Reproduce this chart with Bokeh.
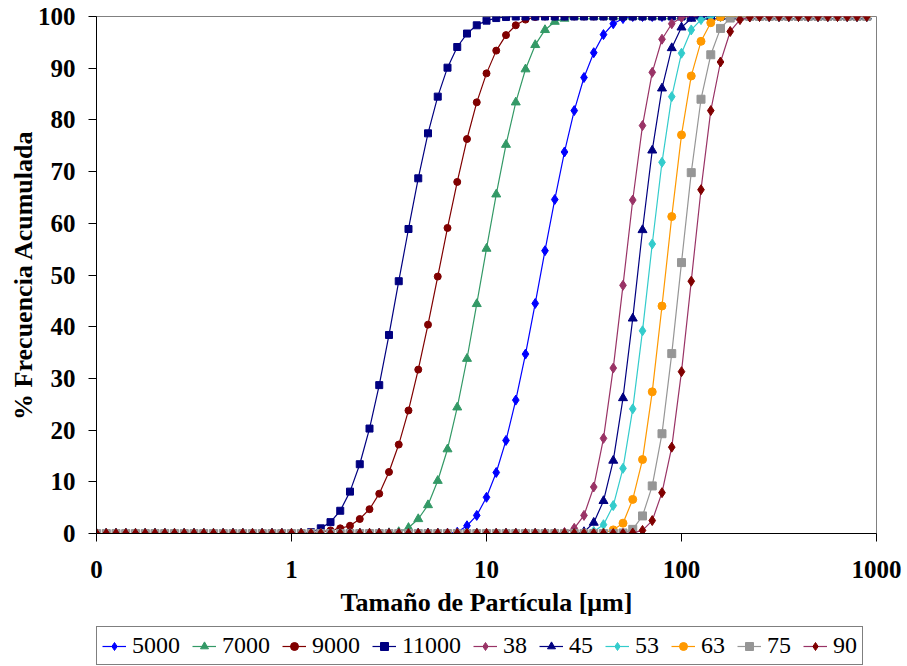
from bokeh.plotting import figure
from bokeh.layouts import column
from bokeh.models import FixedTicker, Legend, LegendItem, Range1d
from bokeh.embed import file_html
from bokeh.resources import INLINE

# Particle sizes (µm) of the measurement grid
sizes = [0.1, 0.1122, 0.1259, 0.1413, 0.1585, 0.1778, 0.1995, 0.2239, 0.2512, 0.2818,
         0.3162, 0.3548, 0.3981, 0.4467, 0.5012, 0.5623, 0.631, 0.7079, 0.7943, 0.8913,
         1.0, 1.122, 1.259, 1.413, 1.585, 1.778, 1.995, 2.239, 2.512, 2.818,
         3.162, 3.548, 3.981, 4.467, 5.012, 5.623, 6.31, 7.079, 7.943, 8.913,
         10.0, 11.22, 12.59, 14.13, 15.85, 17.78, 19.95, 22.39, 25.12, 28.18,
         31.62, 35.48, 39.81, 44.67, 50.12, 56.23, 63.1, 70.79, 79.43, 89.13,
         100.0, 112.2, 125.9, 141.3, 158.5, 177.8, 199.5, 223.9, 251.2, 281.8,
         316.2, 354.8, 398.1, 446.7, 501.2, 562.3, 631.0, 707.9, 794.3, 891.3]
N = len(sizes)

# Rising part of each cumulative curve: (index of first rising point, values)
rise_5000 = (36, [0.05, 0.25, 1.5, 3.5, 7.0, 11.8, 18.0, 25.8, 34.7, 44.5, 54.7, 64.6,
                  73.8, 81.8, 88.2, 93.0, 96.5, 98.6, 99.6])
rise_7000 = (30, [0.1, 0.3, 1.1, 2.8, 5.5, 10.2, 16.3, 24.4, 33.8, 44.4, 55.1, 65.6,
                  75.2, 83.4, 89.8, 94.5, 97.4, 99.0, 99.6])
rise_9000 = (22, [0.1, 0.3, 0.6, 1.0, 1.5, 2.8, 4.7, 7.7, 11.9, 17.2, 23.8, 31.7, 40.4,
                  49.7, 59.1, 68.0, 76.3, 83.4, 89.0, 93.4, 96.4, 98.3, 99.4, 99.9])
rise_11000 = (22, [0.25, 1.0, 2.2, 4.4, 8.1, 13.4, 20.3, 28.7, 38.4, 48.8, 58.9, 68.7,
                   77.4, 84.5, 90.1, 94.1, 96.7, 98.3, 99.2, 99.7, 99.9])
rise_38 = (48, [0.2, 1.0, 3.5, 9.0, 18.4, 32.0, 48.0, 64.5, 78.9, 89.2, 95.6, 98.6, 99.8])
rise_45 = (50, [0.3, 2.1, 6.3, 14.1, 26.2, 41.6, 58.7, 74.1, 86.1, 93.9, 97.9, 99.6])
rise_53 = (51, [0.4, 1.7, 5.4, 12.6, 24.1, 39.2, 56.0, 71.8, 84.5, 92.9, 97.4, 99.4])
rise_63 = (52, [0.1, 0.7, 2.0, 6.6, 14.3, 27.4, 44.0, 61.3, 77.1, 88.5, 95.2, 98.8, 99.9])
rise_75 = (54, [0.1, 0.8, 3.4, 9.2, 19.3, 34.8, 52.4, 69.8, 84.0, 92.6, 97.7, 99.7])
rise_90 = (55, [0.1, 0.6, 2.5, 7.9, 16.7, 31.3, 48.8, 66.5, 81.8, 91.2, 97.1, 99.4, 99.9])

series_names = ["5000", "7000", "9000", "11000", "38", "45", "53", "63", "75", "90"]
series_rises = [rise_5000, rise_7000, rise_9000, rise_11000, rise_38, rise_45,
                rise_53, rise_63, rise_75, rise_90]

x_ticks = [0.1, 1, 10, 100, 1000]
x_tick_labels = ["0", "1", "10", "100", "1000"]
y_ticks = [0, 10, 20, 30, 40, 50, 60, 70, 80, 90, 100]

# styles: (line colour, marker colour, marker, size)
styles = [
    ("#0000FF", "#0000FF", "diamond", 10),
    ("#339966", "#339966", "triangle", 9),
    ("#800000", "#800000", "circle", 7),
    ("#000080", "#000080", "square", 7),
    ("#993366", "#993366", "diamond", 10),
    ("#000080", "#000080", "triangle", 9),
    ("#33CCCC", "#33CCCC", "diamond", 10),
    ("#FF9900", "#FF9900", "circle", 8),
    ("#969696", "#969696", "square", 8),
    ("#993366", "#800000", "diamond", 10),
]

def full_curve(rise):
    start, vals = rise
    return [0.0] * start + vals + [100.0] * (N - start - len(vals))

SERIF = "Liberation Serif"

p = figure(frame_width=780, frame_height=517, x_axis_type="log", output_backend="svg",
           toolbar_location=None, x_range=Range1d(0.1, 1000), y_range=Range1d(0, 100),
           min_border_left=96, min_border_right=31, min_border_top=16,
           min_border_bottom=93)
p.background_fill_color = "white"
p.border_fill_color = "white"
p.outline_line_color = "#808080"
p.outline_line_width = 1
p.grid.visible = False

for name, rise, (lc, mc, mk, sz) in zip(series_names, series_rises, styles):
    ys = full_curve(rise)
    p.line(sizes, ys, line_color=lc, line_width=1.2)
    p.scatter(sizes, ys, marker=mk, size=sz, fill_color=mc, line_color=mc)

# axes
p.xaxis.ticker = FixedTicker(ticks=x_ticks)
p.xaxis.major_label_overrides = {t: l for t, l in zip(x_ticks, x_tick_labels)}
p.xaxis.minor_tick_line_color = None
p.yaxis.ticker = FixedTicker(ticks=y_ticks)
p.yaxis.minor_tick_line_color = None
for ax in (p.xaxis, p.yaxis):
    ax.axis_line_color = "black"
    ax.major_tick_line_color = "black"
    ax.major_tick_in = 0
    ax.major_tick_out = 8
    ax.major_label_text_font = SERIF
    ax.major_label_text_font_style = "bold"
    ax.major_label_text_font_size = "25px"
    ax.major_label_text_color = "black"
    ax.axis_label_text_font = SERIF
    ax.axis_label_text_font_style = "bold"
    ax.axis_label_text_font_size = "26px"
    ax.axis_label_text_color = "black"

p.xaxis.axis_label = "Tamaño de Partícula [μm]"
p.yaxis.axis_label = "% Frecuencia Acumulada"
p.xaxis.major_label_standoff = 19
p.xaxis.axis_label_standoff = 7
p.yaxis.major_label_standoff = 13
p.yaxis.axis_label_standoff = -3

# legend strip: a small figure whose view shows no data, holding the same
# series so that its legend (inside its frame) draws their glyphs
lg = figure(width=907, height=40, output_backend="svg", toolbar_location=None,
            x_axis_location=None, y_axis_location=None,
            min_border_left=0, min_border_right=0, min_border_top=0, min_border_bottom=0,
            x_range=Range1d(2000, 3000), y_range=Range1d(200, 300))
lg.outline_line_color = None
lg.grid.visible = False
lg.background_fill_color = "white"
lg.border_fill_color = "white"

items = []
for name, rise, (lc, mc, mk, sz) in zip(series_names, series_rises, styles):
    ys = full_curve(rise)
    r1 = lg.line(sizes, ys, line_color=lc, line_width=1.2)
    r2 = lg.scatter(sizes, ys, marker=mk, size=sz, fill_color=mc, line_color=mc)
    items.append(LegendItem(label=name, renderers=[r1, r2]))

legend = Legend(items=items, orientation="horizontal", location=(0, 1),
                label_text_font=SERIF, label_text_font_size="24px",
                label_text_color="black", glyph_width=24, glyph_height=20,
                label_standoff=6, spacing=12, padding=5, margin=0,
                border_line_color="black", border_line_width=1,
                background_fill_color="white", background_fill_alpha=1.0)
lg.add_layout(legend, "center")

layout = column(p, lg, spacing=0)
open("out.html", "w").write(file_html(layout, INLINE))
